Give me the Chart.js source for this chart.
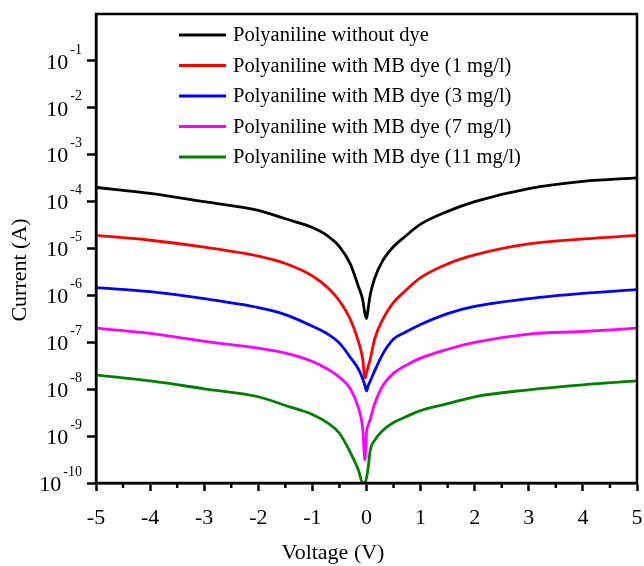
<!DOCTYPE html>
<html>
<head>
<meta charset="utf-8">
<script src="https://cdn.jsdelivr.net/npm/chart.js@4"></script>
<style>
  body { margin: 0; background: #fff; }
  #wrap { width: 644px; height: 566px; }
</style>
</head>
<body>
<div id="wrap"><canvas id="ivChart"></canvas></div>
<script>
// voltage sweep (V)
const voltage = [-5, -4, -3, -2, -1.5, -1, -0.7, -0.5, -0.3, -0.15, -0.07, -0.03, 0,
                 0.03, 0.07, 0.15, 0.3, 0.5, 0.7, 1, 1.5, 2, 3, 4, 5];

// current (A)
const noDye = [2.0e-4, 1.5e-4, 1.0e-4, 6.5e-5, 4.3e-5, 2.8e-5, 1.8e-5, 1.1e-5, 4.7e-6, 1.55e-6, 8.1e-7, 4.1e-7, 3.2e-7,
               5.2e-7, 1.05e-6, 2.3e-6, 5.5e-6, 1.1e-5, 1.75e-5, 3.3e-5, 6.2e-5, 1.0e-4, 1.9e-4, 2.7e-4, 3.2e-4];
const mb1 = [1.9e-5, 1.5e-5, 1.07e-5, 6.9e-6, 4.8e-6, 2.6e-6, 1.4e-6, 7.6e-7, 3.1e-7, 1.05e-7, 4.4e-8, 1.74e-8, 2.2e-8,
             3.0e-8, 4.4e-8, 1.17e-7, 3.1e-7, 7.1e-7, 1.2e-6, 2.4e-6, 4.7e-6, 7.3e-6, 1.25e-5, 1.6e-5, 1.9e-5];
const mb3 = [1.46e-6, 1.2e-6, 8.5e-7, 5.5e-7, 3.9e-7, 2.2e-7, 1.45e-7, 9.6e-8, 4.8e-8, 2.7e-8, 1.66e-8, 1.2e-8, 9.2e-9,
             1.18e-8, 1.5e-8, 2.45e-8, 5.6e-8, 1.17e-7, 1.6e-7, 2.4e-7, 4.1e-7, 5.8e-7, 8.5e-7, 1.1e-6, 1.33e-6];
const mb7 = [2.0e-7, 1.55e-7, 1.05e-7, 7.5e-8, 5.9e-8, 3.9e-8, 2.6e-8, 1.8e-8, 1.02e-8, 4.0e-9, 1.45e-9, 3.1e-10, 1.2e-9,
             1.7e-9, 2.3e-9, 4.9e-9, 1.18e-8, 2.2e-8, 3.1e-8, 4.6e-8, 7.1e-8, 1.0e-7, 1.5e-7, 1.7e-7, 2.0e-7];
const mb11 = [2.0e-8, 1.5e-8, 1.02e-8, 6.9e-9, 4.5e-9, 2.9e-9, 1.85e-9, 1.15e-9, 4.5e-10, 1.9e-10, 1.0e-10, 1.0e-10, 1.27e-10,
              2.1e-10, 5.0e-10, 8.1e-10, 1.32e-9, 1.95e-9, 2.5e-9, 3.5e-9, 4.9e-9, 6.9e-9, 9.7e-9, 1.24e-8, 1.5e-8];

const seriesLabels = ['Polyaniline without dye', 'Polyaniline with MB dye (1 mg/l)', 'Polyaniline with MB dye (3 mg/l)',
                      'Polyaniline with MB dye (7 mg/l)', 'Polyaniline with MB dye (11 mg/l)'];
const seriesColors = ['#000000', '#ff0000', '#0000ff', '#ff00ff', '#008000'];
const seriesValues = [noDye, mb1, mb3, mb7, mb11];

const xTicks = [-5, -4, -3, -2, -1, 0, 1, 2, 3, 4, 5];
const yExponents = [-10, -9, -8, -7, -6, -5, -4, -3, -2, -1];

const serif = "'Liberation Serif', 'Times New Roman', serif";

// frame, minor x ticks, y labels with superscripts, axis titles, legend
const decor = {
  id: 'decor',
  afterDraw(chart) {
    const c = chart.ctx;
    const a = chart.chartArea;
    const xs = chart.scales.x, ys = chart.scales.y;
    c.save();
    c.strokeStyle = '#000';
    c.lineWidth = 2.5;
    c.strokeRect(a.left, a.top, a.right - a.left, a.bottom - a.top);

    // minor ticks at half volts
    c.beginPath();
    for (let v = -4.5; v < 5; v += 1) {
      const px = xs.getPixelForValue(v);
      c.moveTo(px, a.bottom);
      c.lineTo(px, a.bottom + 5);
    }
    c.stroke();

    c.fillStyle = '#000';
    c.textBaseline = 'middle';
    yExponents.forEach(e => {
      const py = ys.getPixelForValue(Math.pow(10, e));
      c.font = '14px ' + serif;
      c.textAlign = 'right';
      const sup = String(e);
      c.fillText(sup, 82, py - 11);
      const w = c.measureText(sup).width;
      c.font = '22px ' + serif;
      c.fillText('10', 82 - w - 2, py + 2);
    });

    c.font = '22px ' + serif;
    c.textAlign = 'center';
    c.fillText('Voltage (V)', 333, 553);
    c.save();
    c.translate(20, 270);
    c.rotate(-Math.PI / 2);
    c.fillText('Current (A)', 0, 0);
    c.restore();

    c.font = '20.5px ' + serif;
    c.textAlign = 'left';
    chart.data.datasets.forEach((ds, i) => {
      const y = 35 + i * 30.5;
      c.strokeStyle = ds.borderColor;
      c.lineWidth = 3;
      c.beginPath();
      c.moveTo(179, y);
      c.lineTo(226, y);
      c.stroke();
      c.fillText(ds.label, 233, y + 1);
    });
    c.restore();
  }
};

new Chart(document.getElementById('ivChart'), {
  type: 'line',
  data: {
    labels: voltage,
    datasets: seriesValues.map((vals, i) => ({
      label: seriesLabels[i],
      data: vals.map((y, k) => ({ x: voltage[k], y: y })),
      borderColor: seriesColors[i],
      backgroundColor: seriesColors[i],
      borderWidth: 2.8,
      pointRadius: 0,
      cubicInterpolationMode: 'monotone'
    }))
  },
  options: {
    responsive: true,
    maintainAspectRatio: false,
    animation: false,
    layout: { padding: { top: 14, right: 7, left: 0, bottom: 0 } },
    plugins: {
      legend: { display: false },
      tooltip: { enabled: false }
    },
    scales: {
      x: {
        type: 'linear',
        min: -5,
        max: 5,
        afterFit: s => { s.height = 83; s.paddingLeft = 0; s.paddingRight = 0; },
        afterBuildTicks: s => { s.ticks = xTicks.map(v => ({ value: v })); },
        border: { color: '#000', width: 2.5 },
        grid: { drawOnChartArea: false, tickLength: 8, tickColor: '#000', tickWidth: 2.5 },
        ticks: { color: '#000', font: { family: serif, size: 22 }, padding: 14, maxRotation: 0 }
      },
      y: {
        type: 'logarithmic',
        min: 1e-10,
        max: 1,
        afterFit: s => { s.width = 96; s.paddingTop = 0; s.paddingBottom = 0; },
        afterBuildTicks: s => { s.ticks = yExponents.map(e => ({ value: Math.pow(10, e) })); },
        border: { color: '#000', width: 2.5 },
        grid: { drawOnChartArea: false, tickLength: 9, tickColor: '#000', tickWidth: 2.5 },
        ticks: { display: false }
      }
    }
  },
  plugins: [decor]
});
</script>
</body>
</html>
